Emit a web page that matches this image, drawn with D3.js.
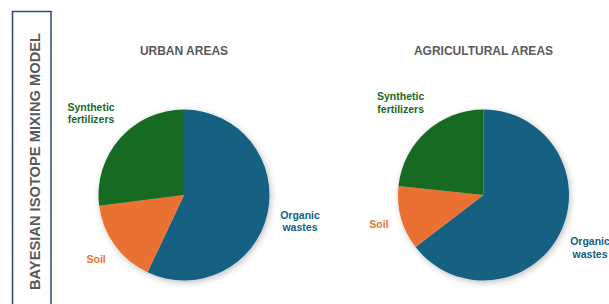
<!DOCTYPE html>
<html>
<head>
<meta charset="utf-8">
<script src="https://cdn.jsdelivr.net/npm/d3@7"></script>
<style>
  body { margin: 0; background: #fff; }
  svg { display: block; font-family: "Liberation Sans", Arial, sans-serif; }
</style>
</head>
<body>
<svg width="609" height="304"></svg>
<script>
// data
var sources = ["Organic wastes", "Soil", "Synthetic fertilizers"];
var areas = ["URBAN AREAS", "AGRICULTURAL AREAS"];
var urbanShare = [57, 16, 27];
var agriShare = [64.6, 12.1, 23.3];
var sideTitle = "BAYESIAN ISOTOPE MIXING MODEL";

var svg = d3.select("svg");
var colors = d3.scaleOrdinal().domain(sources).range(["#156082", "#e97132", "#196b24"]);

// soft shadow like the office chart
var defs = svg.append("defs");
var f = defs.append("filter").attr("id", "shadow")
  .attr("x", "-20%").attr("y", "-20%").attr("width", "140%").attr("height", "140%");
f.append("feDropShadow").attr("dx", 1.5).attr("dy", 2).attr("stdDeviation", 3)
  .attr("flood-color", "#000").attr("flood-opacity", 0.25);

// left framed title
svg.append("rect")
  .attr("x", 12.5).attr("y", 11.5).attr("width", 38.5).attr("height", 320)
  .attr("fill", "none").attr("stroke", "#2a4a78").attr("stroke-width", 1.5);
svg.append("text")
  .attr("transform", "translate(40,161.5) rotate(-90)")
  .attr("text-anchor", "middle")
  .attr("font-size", "14.7px")
  .attr("font-weight", "bold")
  .attr("fill", "#595959")
  .text(sideTitle);

var radius = 85.5;
var pie = d3.pie().sort(null).value(function (d) { return d; });
var arc = d3.arc().innerRadius(0).outerRadius(radius);
// how far out each label sits, as a multiple of the radius
var labelFactor = [1.39, 1.27, 1.45];

var charts = [
  { title: areas[0], values: urbanShare, cx: 184, cy: 195 },
  { title: areas[1], values: agriShare, cx: 483.5, cy: 195 }
];

charts.forEach(function (c) {
  svg.append("text")
    .attr("x", c.cx).attr("y", 55)
    .attr("text-anchor", "middle")
    .attr("font-size", "12px")
    .attr("font-weight", "bold")
    .attr("fill", "#595959")
    .text(c.title);

  var g = svg.append("g").attr("transform", "translate(" + c.cx + "," + c.cy + ")");
  var arcs = pie(c.values);

  g.append("g").attr("filter", "url(#shadow)")
    .selectAll("path")
    .data(arcs)
    .enter()
    .append("path")
    .attr("d", arc)
    .attr("fill", function (d, i) { return colors(sources[i]); });

  g.selectAll(".lbl")
    .data(arcs)
    .enter()
    .append("text")
    .attr("class", "lbl")
    .attr("text-anchor", "middle")
    .attr("font-size", "10.5px")
    .attr("font-weight", "bold")
    .attr("fill", function (d, i) { return colors(sources[i]); })
    .each(function (d, i) {
      var a = (d.startAngle + d.endAngle) / 2;
      var r = radius * labelFactor[i];
      var x = Math.sin(a) * r, y = -Math.cos(a) * r;
      var words = sources[i].split(" ");
      var t = d3.select(this);
      words.forEach(function (w, k) {
        t.append("tspan")
          .attr("x", x)
          .attr("y", y + 4 + (k - (words.length - 1) / 2) * 12.7)
          .text(w);
      });
    });
});
</script>
</body>
</html>
